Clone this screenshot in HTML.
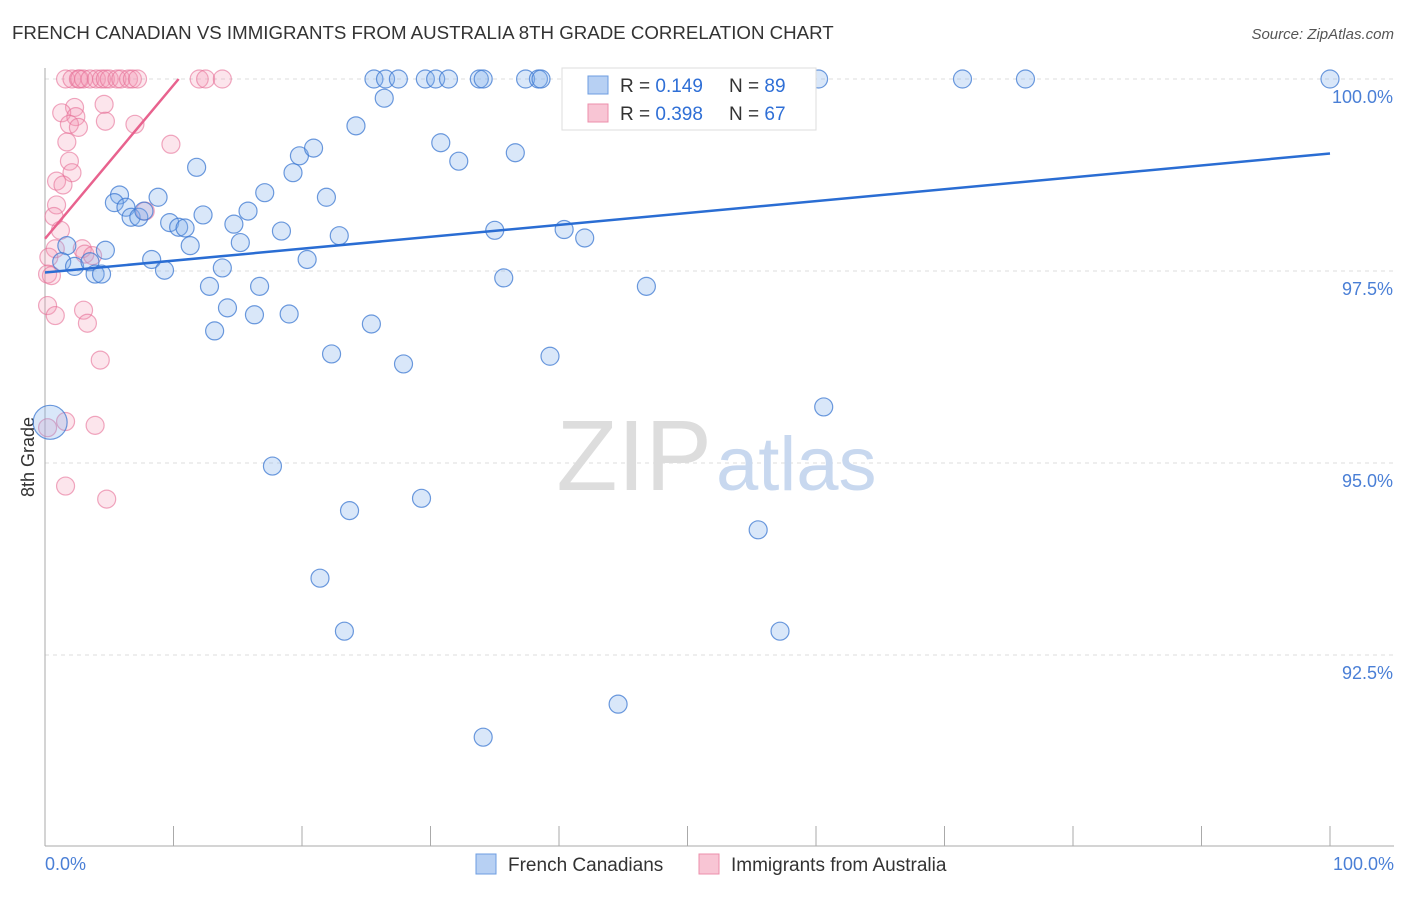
<!DOCTYPE html>
<html><head><meta charset="utf-8"><style>
body{margin:0;background:#fff;font-family:"Liberation Sans",sans-serif}
svg text{font-family:"Liberation Sans",sans-serif}
</style></head><body>
<svg width="1406" height="892">
<text x="12" y="39" font-size="18.7" fill="#333">FRENCH CANADIAN VS IMMIGRANTS FROM AUSTRALIA 8TH GRADE CORRELATION CHART</text>
<text x="1394" y="39" font-size="15" fill="#555" text-anchor="end" font-style="italic">Source: ZipAtlas.com</text>
<g id="grid"></g>
<text x="712" y="490" font-size="100" fill="#ddd" text-anchor="end" font-family="Liberation Serif">ZIP</text>
<text x="716" y="490" font-size="76" fill="#c8d8ef">atlas</text>
<line x1="45" y1="68" x2="45" y2="846" stroke="#aaa"/>
<line x1="45" y1="846" x2="1394" y2="846" stroke="#aaa"/>
<g id="ticks"></g>
<text x="34" y="457" font-size="18" fill="#333" transform="rotate(-90 34 457)" text-anchor="middle">8th Grade</text>
<text x="45" y="870" font-size="18" fill="#4a7fd6">0.0%</text>
<text x="1394" y="870" font-size="18" fill="#4a7fd6" text-anchor="end">100.0%</text>
<g id="pink"></g><g id="blue"></g><g id="trends"></g>
<g>
<rect x="562" y="68" width="254" height="62" fill="#fff" stroke="#ddd"/>
<rect x="588" y="76" width="20" height="18" fill="#b7d0f3" stroke="#6d9de0"/>
<rect x="588" y="104" width="20" height="18" fill="#f8c5d4" stroke="#ec8fab"/>
<text x="620" y="92" font-size="19" fill="#333">R = <tspan fill="#2f6fd6">0.149</tspan></text>
<text x="729" y="92" font-size="19" fill="#333">N = <tspan fill="#2f6fd6">89</tspan></text>
<text x="620" y="120" font-size="19" fill="#333">R = <tspan fill="#2f6fd6">0.398</tspan></text>
<text x="729" y="120" font-size="19" fill="#333">N = <tspan fill="#2f6fd6">67</tspan></text>
</g>
<g>
<rect x="476" y="854" width="20" height="20" fill="#b7d0f3" stroke="#6d9de0"/>
<text x="508" y="871" font-size="19" fill="#333">French Canadians</text>
<rect x="699" y="854" width="20" height="20" fill="#f8c5d4" stroke="#ec8fab"/>
<text x="731" y="871" font-size="19" fill="#333">Immigrants from Australia</text>
</g>
</svg>
<script>
const yTicks=[100,97.5,95,92.5];
const yTickLabels=["100.0%","97.5%","95.0%","92.5%"];
const blueX=[25.6,26.5,27.5,29.6,30.4,31.4,33.8,34.1,37.4,38.4,38.6,47.6,60.2,71.4,76.3,100,26.4,24.2,30.8,32.2,36.6,19.8,20.9,11.8,19.3,17.1,21.9,5.8,5.4,8.8,6.3,6.7,7.3,7.7,9.7,10.4,10.9,12.3,14.7,15.8,18.4,22.9,35,40.4,42,15.2,11.3,1.7,4.7,1.3,2.3,3.5,3.9,4.4,8.3,9.3,13.8,20.4,35.7,46.8,12.8,16.7,14.2,16.3,19,25.4,13.2,22.3,27.9,39.3,60.6,0.4,17.7,29.3,23.7,55.5,21.4,23.3,57.2,44.6,34.1];
const blueY=[100,100,100,100,100,100,100,100,100,100,100,100,100,100,100,100,99.75,99.39,99.17,98.93,99.04,99,99.1,98.85,98.78,98.52,98.46,98.49,98.39,98.46,98.33,98.2,98.2,98.28,98.13,98.07,98.06,98.23,98.11,98.28,98.02,97.96,98.03,98.04,97.93,97.87,97.83,97.83,97.77,97.62,97.56,97.62,97.46,97.46,97.65,97.51,97.54,97.65,97.41,97.3,97.3,97.3,97.02,96.93,96.94,96.81,96.72,96.42,96.29,96.39,95.73,95.53,94.96,94.54,94.38,94.13,93.5,92.81,92.81,91.86,91.43];
const pinkX=[1.6,2.1,2.6,2.7,3,3.5,4,4.4,4.7,5,5.6,5.9,6.5,6.8,7.2,12,12.5,13.8,4.6,2.3,1.3,2.4,1.9,2.6,4.7,7,9.8,1.7,1.9,2.1,0.9,1.4,0.9,0.7,1.2,0.8,2.9,0.3,3.1,3.7,0.2,0.5,0.2,0.8,3,3.3,4.3,1.6,3.9,0.2,1.6,4.8,7.8];
const pinkY=[100,100,100,100,100,100,100,100,100,100,100,100,100,100,100,100,100,100,99.67,99.63,99.56,99.51,99.41,99.37,99.45,99.41,99.15,99.18,98.93,98.78,98.67,98.62,98.36,98.21,98.03,97.79,97.79,97.68,97.72,97.7,97.46,97.44,97.05,96.92,96.99,96.82,96.34,95.54,95.49,95.46,94.7,94.53,98.28];
const blueTrend=[0,97.48,100,99.03];
const pinkTrend=[0,97.92,10.4,100];
const X=v=>45+v*12.85, Y=v=>79+(100-v)*76.8;
const NS="http://www.w3.org/2000/svg";
function mk(t,a,p){const e=document.createElementNS(NS,t);for(const k in a)e.setAttribute(k,a[k]);document.getElementById(p).appendChild(e);return e;}
yTicks.forEach((t,i)=>{
 const l=mk('line',{x1:45,x2:1394,y1:Y(t),y2:Y(t),stroke:'#ddd','stroke-dasharray':'4,4'},'grid');
 
 
 const tx=mk('text',{x:1393,y:Y(t)+24,'font-size':18,fill:'#4a7fd6','text-anchor':'end'},'grid');tx.textContent=yTickLabels[i];
 
 
});
for(let i=0;i<=10;i++){const x=X(i*10);const l=mk('line',{x1:x,x2:x,y1:826,y2:846,stroke:'#aaa'},'ticks');
 
 }
pinkX.forEach((v,i)=>{const c=mk('circle',{cx:X(v),cy:Y(pinkY[i]),r:9,fill:'rgba(244,150,180,0.25)',stroke:'rgba(230,110,150,0.6)','stroke-width':1.2},'pink');
 
 });
blueX.forEach((v,i)=>{const c=mk('circle',{cx:X(v),cy:Y(blueY[i]),r:i==71?17:9,fill:'rgba(130,175,235,0.3)',stroke:'rgba(60,120,210,0.75)','stroke-width':1.2},'blue');
 
 });
const bt=mk('line',{x1:X(blueTrend[0]),y1:Y(blueTrend[1]),x2:X(blueTrend[2]),y2:Y(blueTrend[3]),stroke:'#2a6dd3','stroke-width':2.5},'trends');


const pt=mk('line',{x1:X(pinkTrend[0]),y1:Y(pinkTrend[1]),x2:X(pinkTrend[2]),y2:Y(pinkTrend[3]),stroke:'#e8628e','stroke-width':2.5},'trends');


</script>
</body></html>
